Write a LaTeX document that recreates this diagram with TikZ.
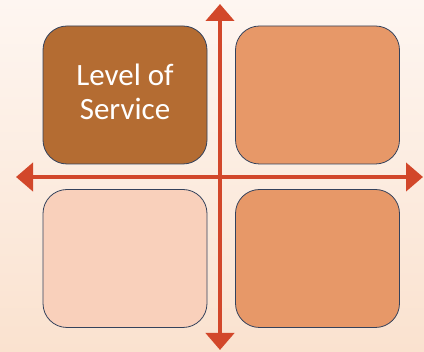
\documentclass[tikz,border=0pt]{standalone}
\usepackage{fontspec}
\setmainfont{Carlito}
\usetikzlibrary{arrows.meta}
\definecolor{bgtop}{HTML}{FEF6F1}
\definecolor{bgbot}{HTML}{FAE2CF}
\definecolor{darkbox}{HTML}{B46C32}
\definecolor{midbox}{HTML}{E79868}
\definecolor{lightbox}{HTML}{F9D0BB}
\definecolor{axis}{HTML}{D2472A}
\definecolor{edge}{HTML}{34425C}
\tikzset{
  quad/.style={draw=edge, line width=0.8pt, rounded corners=24pt, minimum width=164pt, minimum height=138pt, inner sep=0pt},
  quadtext/.style={text=white, align=center, font=\fontsize{31}{34}\selectfont, inner sep=0pt},
  axisline/.style={draw=axis, line width=4.5pt, {Triangle[width=28pt,length=17pt]}-{Triangle[width=28pt,length=17pt]}}
}
\begin{document}
\begin{tikzpicture}[x=1pt,y=-1pt]
\shade[top color=bgtop, bottom color=bgbot] (0,0) rectangle (424,352);
\useasboundingbox (0,0) rectangle (424,352);
\node[quad, fill=darkbox] (tl) at (125,95) {};
\node[quadtext] (tltext) at (125,92) {Level of\\Service};
\node[quad, fill=midbox] (tr) at (317.5,95) {};
\node[quad, fill=lightbox] (bl) at (125,258.5) {};
\node[quad, fill=midbox] (br) at (317.5,258.5) {};
\coordinate (left) at (16,177);
\coordinate (right) at (423,177);
\coordinate (top) at (220,4);
\coordinate (bottom) at (220,350);
\draw[axisline] (left) -- (right);
\draw[axisline] (top) -- (bottom);
\end{tikzpicture}
\end{document}
